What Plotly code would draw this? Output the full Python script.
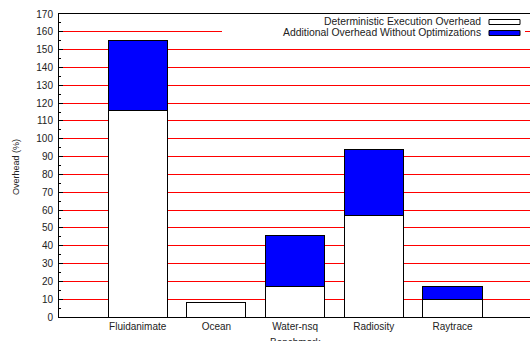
import plotly.graph_objects as go

categories = ["Fluidanimate", "Ocean", "Water-nsq", "Radiosity", "Raytrace"]
det_overhead = [116, 8, 17, 57, 10]
extra_overhead = [39, 0, 29, 37, 7]
series_names = ["Deterministic Execution Overhead", "Additional Overhead Without Optimizations"]
y_ticks = list(range(0, 171, 10))

W, H = 530, 341
L, T, B = 59, 14, 24
PW, PH = W - L, H - T - B

def px(x):
    return (x - L) / PW

def py(y):
    return (H - B - y) / PH

FONT = "Liberation Sans, Arial, sans-serif"
TXT = "#222222"

fig = go.Figure()
fig.add_trace(go.Bar(x=list(range(len(categories))), y=det_overhead, name=series_names[0],
                     marker=dict(color="white", line=dict(color="black", width=1)), width=0.75))
fig.add_trace(go.Bar(x=list(range(len(categories))), y=extra_overhead, name=series_names[1],
                     marker=dict(color="#0000ff", line=dict(color="black", width=1)), width=0.75))

fig.update_layout(
    barmode="stack",
    width=W, height=H,
    margin=dict(l=L, r=0, t=T, b=B),
    plot_bgcolor="white", paper_bgcolor="white",
    showlegend=False,
    font=dict(family=FONT, size=10, color=TXT),
)
fig.update_xaxes(
    range=[-1, -1 + PW / 78.7],
    tickmode="array", tickvals=list(range(len(categories))), ticktext=categories,
    showline=True, linecolor="black", linewidth=1, mirror=True,
    ticks="inside", ticklen=4, tickcolor="black",
    showgrid=False, zeroline=False, layer="below traces",
    tickfont=dict(size=10, color=TXT),
)
fig.update_yaxes(
    range=[0, 170], tickvals=y_ticks,
    showline=True, linecolor="black", linewidth=1,
    ticks="inside", ticklen=4, tickcolor="black",
    minor=dict(ticks="inside", ticklen=2, dtick=5, tickcolor="black", showgrid=False),
    showgrid=True, gridcolor="#ff0000", gridwidth=1, zeroline=False,
    tickfont=dict(size=10, color=TXT), ticklabelstandoff=3,
)

# y-axis title and x-axis title
fig.add_annotation(text="Overhead (%)", textangle=-90, xref="paper", yref="paper",
                   x=px(16), y=py(167), xanchor="center", yanchor="middle",
                   showarrow=False, font=dict(size=9, color=TXT))
fig.add_annotation(text="Benchmark", xref="paper", yref="paper", x=px(296), y=py(335),
                   xanchor="center", yanchor="top", showarrow=False, font=dict(size=10, color=TXT))

# legend box (opaque), swatches and text
fig.add_shape(type="rect", xref="paper", yref="paper", x0=px(222), x1=px(525), y0=py(40), y1=py(16),
              fillcolor="white", line=dict(width=0), layer="above")
fills = ["white", "#0000ff"]
rows = [22, 33]
for name, fc, yc in zip(series_names, fills, rows):
    fig.add_shape(type="rect", xref="paper", yref="paper", x0=px(489), x1=px(520),
                  y0=py(yc + 2.5), y1=py(yc - 2.5), fillcolor=fc,
                  line=dict(color="black", width=1), layer="above")
    fig.add_annotation(text=name, xref="paper", yref="paper", x=px(483), y=py(yc),
                       xanchor="right", yanchor="middle", showarrow=False,
                       font=dict(size=10.4, color=TXT))

fig.write_html("out.html")
